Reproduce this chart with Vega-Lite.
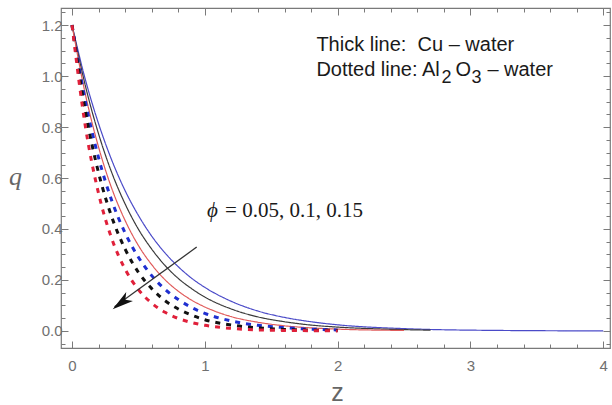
{
  "$schema": "https://vega.github.io/schema/vega-lite/v6.json",
  "width": 549,
  "height": 340,
  "autosize": {"type": "none"},
  "padding": {"left": 61, "top": 8, "right": 2, "bottom": 57},
  "background": "white",
  "config": {
    "view": {"stroke": "#7a7a7a", "strokeWidth": 1.2},
    "axis": {"domain": false, "grid": false, "tickColor": "#7a7a7a", "tickWidth": 1, "labelColor": "#707070", "labelFont": "Liberation Sans", "labelFontSize": 15, "labelOverlap": false, "labelFlush": false}
  },
  "resolve": {"axis": {"x": "independent", "y": "independent"}},
  "layer": [
    {
      "data": {"values": [
        {"z":0,"q":1.2,"fluid":"Cu","series":"Cu 0.05"},{"z":0.1,"q":0.987,"fluid":"Cu","series":"Cu 0.05"},{"z":0.2,"q":0.813,"fluid":"Cu","series":"Cu 0.05"},{"z":0.3,"q":0.669,"fluid":"Cu","series":"Cu 0.05"},{"z":0.4,"q":0.55,"fluid":"Cu","series":"Cu 0.05"},{"z":0.5,"q":0.453,"fluid":"Cu","series":"Cu 0.05"},{"z":0.6,"q":0.372,"fluid":"Cu","series":"Cu 0.05"},{"z":0.7,"q":0.306,"fluid":"Cu","series":"Cu 0.05"},{"z":0.8,"q":0.252,"fluid":"Cu","series":"Cu 0.05"},{"z":0.9,"q":0.207,"fluid":"Cu","series":"Cu 0.05"},{"z":1.0,"q":0.171,"fluid":"Cu","series":"Cu 0.05"},{"z":1.2,"q":0.116,"fluid":"Cu","series":"Cu 0.05"},{"z":1.4,"q":0.078,"fluid":"Cu","series":"Cu 0.05"},{"z":1.6,"q":0.053,"fluid":"Cu","series":"Cu 0.05"},{"z":1.8,"q":0.036,"fluid":"Cu","series":"Cu 0.05"},{"z":2.0,"q":0.024,"fluid":"Cu","series":"Cu 0.05"},{"z":2.5,"q":0.009,"fluid":"Cu","series":"Cu 0.05"},{"z":3.0,"q":0.003,"fluid":"Cu","series":"Cu 0.05"},{"z":4.0,"q":0.0,"fluid":"Cu","series":"Cu 0.05"},
        {"z":0,"q":1.2,"fluid":"Cu","series":"Cu 0.1"},{"z":0.1,"q":0.963,"fluid":"Cu","series":"Cu 0.1"},{"z":0.2,"q":0.773,"fluid":"Cu","series":"Cu 0.1"},{"z":0.3,"q":0.62,"fluid":"Cu","series":"Cu 0.1"},{"z":0.4,"q":0.498,"fluid":"Cu","series":"Cu 0.1"},{"z":0.5,"q":0.399,"fluid":"Cu","series":"Cu 0.1"},{"z":0.6,"q":0.321,"fluid":"Cu","series":"Cu 0.1"},{"z":0.7,"q":0.257,"fluid":"Cu","series":"Cu 0.1"},{"z":0.8,"q":0.206,"fluid":"Cu","series":"Cu 0.1"},{"z":0.9,"q":0.166,"fluid":"Cu","series":"Cu 0.1"},{"z":1.0,"q":0.133,"fluid":"Cu","series":"Cu 0.1"},{"z":1.2,"q":0.086,"fluid":"Cu","series":"Cu 0.1"},{"z":1.4,"q":0.055,"fluid":"Cu","series":"Cu 0.1"},{"z":1.6,"q":0.036,"fluid":"Cu","series":"Cu 0.1"},{"z":1.8,"q":0.023,"fluid":"Cu","series":"Cu 0.1"},{"z":2.0,"q":0.015,"fluid":"Cu","series":"Cu 0.1"},{"z":2.3,"q":0.008,"fluid":"Cu","series":"Cu 0.1"},{"z":2.7,"q":0.003,"fluid":"Cu","series":"Cu 0.1"},
        {"z":0,"q":1.2,"fluid":"Cu","series":"Cu 0.15"},{"z":0.1,"q":0.93,"fluid":"Cu","series":"Cu 0.15"},{"z":0.2,"q":0.721,"fluid":"Cu","series":"Cu 0.15"},{"z":0.3,"q":0.558,"fluid":"Cu","series":"Cu 0.15"},{"z":0.4,"q":0.433,"fluid":"Cu","series":"Cu 0.15"},{"z":0.5,"q":0.335,"fluid":"Cu","series":"Cu 0.15"},{"z":0.6,"q":0.26,"fluid":"Cu","series":"Cu 0.15"},{"z":0.7,"q":0.201,"fluid":"Cu","series":"Cu 0.15"},{"z":0.8,"q":0.156,"fluid":"Cu","series":"Cu 0.15"},{"z":0.9,"q":0.121,"fluid":"Cu","series":"Cu 0.15"},{"z":1.0,"q":0.094,"fluid":"Cu","series":"Cu 0.15"},{"z":1.2,"q":0.056,"fluid":"Cu","series":"Cu 0.15"},{"z":1.4,"q":0.034,"fluid":"Cu","series":"Cu 0.15"},{"z":1.6,"q":0.02,"fluid":"Cu","series":"Cu 0.15"},{"z":1.8,"q":0.012,"fluid":"Cu","series":"Cu 0.15"},{"z":2.0,"q":0.007,"fluid":"Cu","series":"Cu 0.15"},{"z":2.5,"q":0.002,"fluid":"Cu","series":"Cu 0.15"},
        {"z":0,"q":1.2,"fluid":"Al2O3","series":"Al2O3 0.05"},{"z":0.1,"q":0.902,"fluid":"Al2O3","series":"Al2O3 0.05"},{"z":0.2,"q":0.679,"fluid":"Al2O3","series":"Al2O3 0.05"},{"z":0.3,"q":0.51,"fluid":"Al2O3","series":"Al2O3 0.05"},{"z":0.4,"q":0.384,"fluid":"Al2O3","series":"Al2O3 0.05"},{"z":0.5,"q":0.289,"fluid":"Al2O3","series":"Al2O3 0.05"},{"z":0.6,"q":0.217,"fluid":"Al2O3","series":"Al2O3 0.05"},{"z":0.7,"q":0.163,"fluid":"Al2O3","series":"Al2O3 0.05"},{"z":0.8,"q":0.123,"fluid":"Al2O3","series":"Al2O3 0.05"},{"z":0.9,"q":0.092,"fluid":"Al2O3","series":"Al2O3 0.05"},{"z":1.0,"q":0.069,"fluid":"Al2O3","series":"Al2O3 0.05"},{"z":1.2,"q":0.039,"fluid":"Al2O3","series":"Al2O3 0.05"},{"z":1.4,"q":0.022,"fluid":"Al2O3","series":"Al2O3 0.05"},{"z":1.6,"q":0.013,"fluid":"Al2O3","series":"Al2O3 0.05"},{"z":1.8,"q":0.007,"fluid":"Al2O3","series":"Al2O3 0.05"},{"z":2.0,"q":0.004,"fluid":"Al2O3","series":"Al2O3 0.05"},
        {"z":0,"q":1.2,"fluid":"Al2O3","series":"Al2O3 0.1"},{"z":0.1,"q":0.863,"fluid":"Al2O3","series":"Al2O3 0.1"},{"z":0.2,"q":0.62,"fluid":"Al2O3","series":"Al2O3 0.1"},{"z":0.3,"q":0.446,"fluid":"Al2O3","series":"Al2O3 0.1"},{"z":0.4,"q":0.321,"fluid":"Al2O3","series":"Al2O3 0.1"},{"z":0.5,"q":0.23,"fluid":"Al2O3","series":"Al2O3 0.1"},{"z":0.6,"q":0.166,"fluid":"Al2O3","series":"Al2O3 0.1"},{"z":0.7,"q":0.119,"fluid":"Al2O3","series":"Al2O3 0.1"},{"z":0.8,"q":0.086,"fluid":"Al2O3","series":"Al2O3 0.1"},{"z":0.9,"q":0.062,"fluid":"Al2O3","series":"Al2O3 0.1"},{"z":1.0,"q":0.044,"fluid":"Al2O3","series":"Al2O3 0.1"},{"z":1.2,"q":0.023,"fluid":"Al2O3","series":"Al2O3 0.1"},{"z":1.4,"q":0.012,"fluid":"Al2O3","series":"Al2O3 0.1"},{"z":1.6,"q":0.006,"fluid":"Al2O3","series":"Al2O3 0.1"},{"z":1.8,"q":0.003,"fluid":"Al2O3","series":"Al2O3 0.1"},{"z":2.0,"q":0.002,"fluid":"Al2O3","series":"Al2O3 0.1"},
        {"z":0,"q":1.2,"fluid":"Al2O3","series":"Al2O3 0.15"},{"z":0.1,"q":0.804,"fluid":"Al2O3","series":"Al2O3 0.15"},{"z":0.2,"q":0.539,"fluid":"Al2O3","series":"Al2O3 0.15"},{"z":0.3,"q":0.361,"fluid":"Al2O3","series":"Al2O3 0.15"},{"z":0.4,"q":0.242,"fluid":"Al2O3","series":"Al2O3 0.15"},{"z":0.5,"q":0.162,"fluid":"Al2O3","series":"Al2O3 0.15"},{"z":0.6,"q":0.109,"fluid":"Al2O3","series":"Al2O3 0.15"},{"z":0.7,"q":0.073,"fluid":"Al2O3","series":"Al2O3 0.15"},{"z":0.8,"q":0.049,"fluid":"Al2O3","series":"Al2O3 0.15"},{"z":0.9,"q":0.033,"fluid":"Al2O3","series":"Al2O3 0.15"},{"z":1.0,"q":0.022,"fluid":"Al2O3","series":"Al2O3 0.15"},{"z":1.2,"q":0.01,"fluid":"Al2O3","series":"Al2O3 0.15"},{"z":1.4,"q":0.004,"fluid":"Al2O3","series":"Al2O3 0.15"},{"z":1.6,"q":0.002,"fluid":"Al2O3","series":"Al2O3 0.15"},{"z":1.8,"q":0.001,"fluid":"Al2O3","series":"Al2O3 0.15"},{"z":2.0,"q":0.0,"fluid":"Al2O3","series":"Al2O3 0.15"}
      ]},
      "mark": {"type": "line", "interpolate": "monotone", "clip": true},
      "encoding": {
        "x": {"field": "z", "type": "quantitative", "scale": {"domain": [-0.083, 4.051], "nice": false, "zero": false},
          "axis": {"orient": "bottom", "values": [0,0.2,0.4,0.6,0.8,1,1.2,1.4,1.6,1.8,2,2.2,2.4,2.6,2.8,3,3.2,3.4,3.6,3.8,4],
            "labelExpr": "datum.value % 1 === 0 ? format(datum.value, 'd') : ''",
            "tickSize": {"condition": {"test": "datum.value % 1 === 0", "value": -7}, "value": -4},
            "labelPadding": 17,
            "title": "z", "titleFont": "Liberation Sans", "titleFontSize": 25, "titleFontWeight": "normal", "titleColor": "#666666",
            "titleX": 276, "titleY": 44, "titleAlign": "center", "titleBaseline": "middle"}},
        "y": {"field": "q", "type": "quantitative", "scale": {"domain": [-0.067, 1.267], "nice": false, "zero": false},
          "axis": {"orient": "left", "values": [-0.05,0,0.05,0.1,0.15,0.2,0.25,0.3,0.35,0.4,0.45,0.5,0.55,0.6,0.65,0.7,0.75,0.8,0.85,0.9,0.95,1,1.05,1.1,1.15,1.2,1.25],
            "labelExpr": "abs(datum.value*5 - round(datum.value*5)) < 0.000001 ? format(datum.value, '.1f') : ''",
            "tickSize": {"condition": {"test": "abs(datum.value*5 - round(datum.value*5)) < 0.000001", "value": -7}, "value": -4},
            "labelPadding": 6,
            "title": "q", "titleFont": "Liberation Serif", "titleFontStyle": "italic", "titleFontSize": 26, "titleFontWeight": "normal", "titleColor": "#666666",
            "titleAngle": 0, "titleX": -46, "titleY": 168, "titleAlign": "center", "titleBaseline": "middle"}},
        "detail": {"field": "series", "type": "nominal"},
        "color": {"field": "series", "type": "nominal", "legend": null,
          "scale": {"domain": ["Cu 0.05","Cu 0.1","Cu 0.15","Al2O3 0.05","Al2O3 0.1","Al2O3 0.15"],
                    "range": ["#4a4ac8","#3a3a3a","#e05a5a","#1f2fd0","#111111","#e0203a"]}},
        "strokeDash": {"field": "fluid", "type": "nominal", "legend": null,
          "scale": {"domain": ["Cu","Al2O3"], "range": [[1,0],[5,6]]}},
        "strokeWidth": {"field": "fluid", "type": "nominal", "legend": null,
          "scale": {"domain": ["Cu","Al2O3"], "range": [1.2, 3]}}
      }
    },
    {
      "data": {"values": [{"z": 0.939, "q": 0.329, "z2": 0.32, "q2": 0.095}]},
      "mark": {"type": "rule", "color": "#333333", "strokeWidth": 1.3},
      "encoding": {
        "x": {"field": "z", "type": "quantitative", "scale": {"domain": [-0.083, 4.051], "nice": false, "zero": false},
          "axis": {"orient": "top", "values": [0,0.2,0.4,0.6,0.8,1,1.2,1.4,1.6,1.8,2,2.2,2.4,2.6,2.8,3,3.2,3.4,3.6,3.8,4],
            "labels": false, "title": null,
            "tickSize": {"condition": {"test": "datum.value % 1 === 0", "value": -7}, "value": -4}}},
        "y": {"field": "q", "type": "quantitative", "scale": {"domain": [-0.067, 1.267], "nice": false, "zero": false},
          "axis": {"orient": "right", "values": [-0.05,0,0.05,0.1,0.15,0.2,0.25,0.3,0.35,0.4,0.45,0.5,0.55,0.6,0.65,0.7,0.75,0.8,0.85,0.9,0.95,1,1.05,1.1,1.15,1.2,1.25],
            "labels": false, "title": null,
            "tickSize": {"condition": {"test": "abs(datum.value*5 - round(datum.value*5)) < 0.000001", "value": -7}, "value": -4}}},
        "x2": {"field": "z2"},
        "y2": {"field": "q2"}
      }
    },
    {
      "data": {"values": [{"z": 0.306, "q": 0.085}]},
      "mark": {"type": "point", "shape": "M0,0L0.42,1.6L0,1.2L-0.42,1.6Z", "filled": true, "color": "#111111", "opacity": 1, "size": 700, "angle": 233},
      "encoding": {
        "x": {"field": "z", "type": "quantitative", "axis": null, "scale": {"domain": [-0.083, 4.051], "nice": false, "zero": false}},
        "y": {"field": "q", "type": "quantitative", "axis": null, "scale": {"domain": [-0.067, 1.267], "nice": false, "zero": false}}
      }
    },
    {
      "data": {"values": [{"z": 1.84, "q": 1.1, "label": "Thick line:\u00a0 Cu – water"}, {"z": 1.84, "q": 1.0, "label": "Dotted line: Al"}]},
      "mark": {"type": "text", "align": "left", "baseline": "alphabetic", "font": "Liberation Sans", "fontSize": 20, "color": "#1a1a1a"},
      "encoding": {
        "x": {"field": "z", "type": "quantitative", "axis": null, "scale": {"domain": [-0.083, 4.051], "nice": false, "zero": false}},
        "y": {"field": "q", "type": "quantitative", "axis": null, "scale": {"domain": [-0.067, 1.267], "nice": false, "zero": false}},
        "text": {"field": "label"}
      }
    },
    {
      "data": {"values": [{"z": 1.84, "q": 1.0, "label": "2"}]},
      "mark": {"type": "text", "align": "left", "baseline": "alphabetic", "font": "Liberation Sans", "fontSize": 18, "color": "#1a1a1a", "dx": 125, "dy": 7},
      "encoding": {
        "x": {"field": "z", "type": "quantitative", "axis": null, "scale": {"domain": [-0.083, 4.051], "nice": false, "zero": false}},
        "y": {"field": "q", "type": "quantitative", "axis": null, "scale": {"domain": [-0.067, 1.267], "nice": false, "zero": false}},
        "text": {"field": "label"}
      }
    },
    {
      "data": {"values": [{"z": 1.84, "q": 1.0, "label": "O"}]},
      "mark": {"type": "text", "align": "left", "baseline": "alphabetic", "font": "Liberation Sans", "fontSize": 20, "color": "#1a1a1a", "dx": 139},
      "encoding": {
        "x": {"field": "z", "type": "quantitative", "axis": null, "scale": {"domain": [-0.083, 4.051], "nice": false, "zero": false}},
        "y": {"field": "q", "type": "quantitative", "axis": null, "scale": {"domain": [-0.067, 1.267], "nice": false, "zero": false}},
        "text": {"field": "label"}
      }
    },
    {
      "data": {"values": [{"z": 1.84, "q": 1.0, "label": "3"}]},
      "mark": {"type": "text", "align": "left", "baseline": "alphabetic", "font": "Liberation Sans", "fontSize": 18, "color": "#1a1a1a", "dx": 155, "dy": 7},
      "encoding": {
        "x": {"field": "z", "type": "quantitative", "axis": null, "scale": {"domain": [-0.083, 4.051], "nice": false, "zero": false}},
        "y": {"field": "q", "type": "quantitative", "axis": null, "scale": {"domain": [-0.067, 1.267], "nice": false, "zero": false}},
        "text": {"field": "label"}
      }
    },
    {
      "data": {"values": [{"z": 1.84, "q": 1.0, "label": "– water"}]},
      "mark": {"type": "text", "align": "left", "baseline": "alphabetic", "font": "Liberation Sans", "fontSize": 20, "color": "#1a1a1a", "dx": 171},
      "encoding": {
        "x": {"field": "z", "type": "quantitative", "axis": null, "scale": {"domain": [-0.083, 4.051], "nice": false, "zero": false}},
        "y": {"field": "q", "type": "quantitative", "axis": null, "scale": {"domain": [-0.067, 1.267], "nice": false, "zero": false}},
        "text": {"field": "label"}
      }
    },
    {
      "data": {"values": [{"z": 1.017, "q": 0.447, "label": "ϕ"}]},
      "mark": {"type": "text", "align": "left", "baseline": "alphabetic", "font": "Liberation Serif", "fontStyle": "italic", "fontSize": 21, "color": "#1a1a1a"},
      "encoding": {
        "x": {"field": "z", "type": "quantitative", "axis": null, "scale": {"domain": [-0.083, 4.051], "nice": false, "zero": false}},
        "y": {"field": "q", "type": "quantitative", "axis": null, "scale": {"domain": [-0.067, 1.267], "nice": false, "zero": false}},
        "text": {"field": "label"}
      }
    },
    {
      "data": {"values": [{"z": 1.017, "q": 0.447, "label": "= 0.05, 0.1, 0.15"}]},
      "mark": {"type": "text", "align": "left", "baseline": "alphabetic", "font": "Liberation Serif", "fontSize": 21, "color": "#1a1a1a", "dx": 18},
      "encoding": {
        "x": {"field": "z", "type": "quantitative", "axis": null, "scale": {"domain": [-0.083, 4.051], "nice": false, "zero": false}},
        "y": {"field": "q", "type": "quantitative", "axis": null, "scale": {"domain": [-0.067, 1.267], "nice": false, "zero": false}},
        "text": {"field": "label"}
      }
    }
  ]
}
